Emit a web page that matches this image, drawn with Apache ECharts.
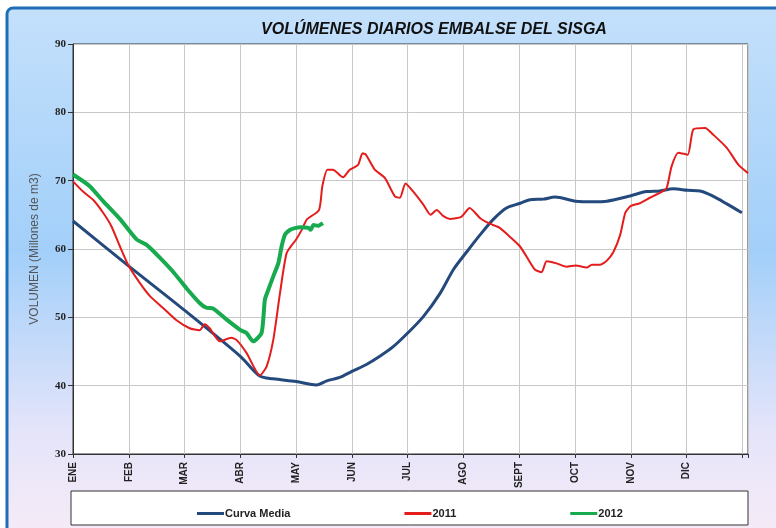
<!DOCTYPE html>
<html>
<head>
<meta charset="utf-8">
<script src="https://cdn.jsdelivr.net/npm/echarts@6/dist/echarts.min.js"></script>
<style>
  html, body { margin: 0; padding: 0; background: #fff; }
  #chart { width: 776px; height: 528px; }
</style>
</head>
<body>
<div id="chart"></div>
<script>
// meses (posicion = mes transcurrido desde el 1 de enero)
const meses = ['ENE', 'FEB', 'MAR', 'ABR', 'MAY', 'JUN', 'JUL', 'AGO', 'SEPT', 'OCT', 'NOV', 'DIC'];

// Curva Media
const mediaMes = [0, 1.0, 2.02, 3.0, 3.35, 3.59, 4.0, 4.25, 4.37, 4.55, 4.78, 5.0, 5.26, 5.5, 5.74, 6.0, 6.28, 6.58, 6.82, 7.06, 7.3, 7.53, 7.77, 8.02, 8.19, 8.43, 8.64, 9.01, 9.33, 9.57, 10.0, 10.28, 10.52, 10.76, 11.02, 11.24, 11.48, 11.72, 11.99];
const mediaVol = [64.1, 57.5, 50.9, 44.3, 41.4, 41.0, 40.6, 40.2, 40.1, 40.7, 41.2, 42.1, 43.1, 44.3, 45.7, 47.7, 50.1, 53.5, 57.0, 59.6, 62.1, 64.3, 66.0, 66.7, 67.2, 67.3, 67.6, 67.0, 66.9, 67.0, 67.8, 68.4, 68.5, 68.8, 68.6, 68.5, 67.7, 66.6, 65.3];

// 2011
const mes2011 = [0, 0.18, 0.36, 0.54, 0.69, 0.84, 1.0, 1.2, 1.38, 1.61, 1.85, 2.09, 2.27, 2.36, 2.45, 2.63, 2.84, 2.93, 3.11, 3.35, 3.47, 3.59, 3.71, 3.83, 4.0, 4.1, 4.19, 4.41, 4.47, 4.56, 4.66, 4.84, 4.96, 5.11, 5.19, 5.25, 5.41, 5.59, 5.77, 5.86, 5.96, 6.1, 6.28, 6.41, 6.52, 6.64, 6.76, 6.96, 7.11, 7.3, 7.47, 7.65, 7.83, 8.01, 8.13, 8.28, 8.4, 8.49, 8.67, 8.85, 9.01, 9.21, 9.3, 9.45, 9.57, 9.69, 9.81, 9.9, 10.0, 10.16, 10.34, 10.52, 10.64, 10.73, 10.85, 11.02, 11.12, 11.33, 11.48, 11.72, 11.93, 12.1];
const vol2011 = [69.9, 68.4, 67.2, 65.3, 63.3, 60.4, 57.5, 55.0, 53.1, 51.4, 49.6, 48.4, 48.1, 49.0, 48.4, 46.5, 47.0, 46.7, 44.8, 41.5, 42.8, 46.7, 53.5, 59.4, 61.4, 62.8, 64.3, 65.7, 69.2, 71.6, 71.6, 70.5, 71.6, 72.3, 74.0, 73.8, 71.6, 70.4, 67.7, 67.5, 69.6, 68.4, 66.5, 65.0, 65.7, 64.8, 64.4, 64.7, 66.0, 64.5, 63.7, 63.1, 61.8, 60.4, 58.9, 57.0, 56.6, 58.2, 57.9, 57.4, 57.6, 57.3, 57.7, 57.7, 58.3, 59.6, 62.1, 65.3, 66.3, 66.7, 67.5, 68.2, 68.9, 72.1, 74.1, 73.8, 77.5, 77.7, 76.7, 74.8, 72.3, 71.1];

// 2012
const mes2012 = [0, 0.3, 0.54, 0.84, 1.14, 1.32, 1.56, 1.79, 2.03, 2.27, 2.39, 2.51, 2.75, 2.99, 3.11, 3.23, 3.38, 3.44, 3.5, 3.59, 3.68, 3.74, 3.8, 3.89, 4.07, 4.22, 4.26, 4.31, 4.39, 4.48];
const vol2012 = [70.9, 69.2, 67.0, 64.4, 61.4, 60.6, 58.7, 56.7, 54.3, 52.1, 51.4, 51.3, 49.7, 48.2, 47.7, 46.5, 47.7, 52.6, 54.0, 56.0, 57.9, 60.4, 62.1, 62.8, 63.2, 63.1, 62.8, 63.5, 63.4, 63.8];

const ejeY = { min: 30, max: 90, paso: 10 };

const zip = (xs, ys) => xs.map((x, i) => [x, ys[i]]);

const myChart = echarts.init(document.getElementById('chart'));

myChart.setOption({
    animation: false,
    graphic: [
        {
            type: 'rect', z: -10, silent: true,
            shape: { x: 7, y: 8, width: 790, height: 540, r: 6 },
            style: {
                fill: new echarts.graphic.LinearGradient(0, 0, 0, 1, [
                    { offset: 0, color: '#c4e0fb' },
                    { offset: 0.45, color: '#a2cff9' },
                    { offset: 0.78, color: '#e4e4fa' },
                    { offset: 1, color: '#f9ecf6' }
                ]),
                stroke: '#1f6db6', lineWidth: 3
            }
        },
        {
            type: 'rect', z: -9, silent: true,
            shape: { x: 71, y: 491, width: 677, height: 34 },
            style: { fill: '#fff', stroke: '#333', lineWidth: 1 }
        }
    ],
    title: {
        text: 'VOLÚMENES DIARIOS EMBALSE DEL SISGA',
        left: 429, top: 17, textAlign: 'center',
        textStyle: { fontFamily: 'Liberation Sans', fontSize: 16, fontWeight: 'bold', fontStyle: 'italic', color: '#111' }
    },
    legend: {
        left: 192, top: 503,
        itemGap: 114, itemWidth: 27, itemHeight: 3,
        icon: 'rect',
        textStyle: { fontFamily: 'Liberation Sans', fontSize: 11, fontWeight: 'bold', color: '#222', padding: [0, 0, 0, -4] },
        data: ['Curva Media', '2011', '2012']
    },
    grid: {
        left: 73, right: 28, top: 44, bottom: 74,
        show: true, backgroundColor: '#fff', borderColor: '#333', borderWidth: 1
    },
    xAxis: {
        type: 'value', min: 0, max: 12.1, interval: 1,
        axisLine: { show: true, lineStyle: { color: '#333' } },
        axisTick: { show: true, length: 4, lineStyle: { color: '#333' } },
        splitLine: { show: true, lineStyle: { color: '#c8c8c8' } },
        axisLabel: {
            rotate: 90, margin: 8,
            fontFamily: 'Liberation Sans', fontSize: 10, fontWeight: 'bold', color: '#222',
            formatter: v => (Number.isInteger(v) && meses[v]) ? meses[v] : ''
        }
    },
    yAxis: {
        type: 'value', min: ejeY.min, max: ejeY.max, interval: ejeY.paso,
        name: 'VOLUMEN (Millones de m3)', nameLocation: 'middle', nameGap: 32,
        nameTextStyle: { fontFamily: 'Liberation Sans', fontSize: 12, color: '#555' },
        axisLine: { show: true, lineStyle: { color: '#333' } },
        axisTick: { show: true, length: 5, lineStyle: { color: '#333' } },
        splitLine: { show: true, lineStyle: { color: '#c8c8c8' } },
        axisLabel: { margin: 7, fontFamily: 'Liberation Serif', fontSize: 11, fontWeight: 'bold', color: '#222' }
    },
    series: [
        {
            name: 'Curva Media', type: 'line', data: zip(mediaMes, mediaVol),
            showSymbol: false, smooth: 0.3,
            lineStyle: { color: '#24497c', width: 3 }, itemStyle: { color: '#24497c' }
        },
        {
            name: '2011', type: 'line', data: zip(mes2011, vol2011),
            showSymbol: false, smooth: 0.2,
            lineStyle: { color: '#e41c1c', width: 2 }, itemStyle: { color: '#e41c1c' }
        },
        {
            name: '2012', type: 'line', data: zip(mes2012, vol2012),
            showSymbol: false, smooth: 0.2,
            lineStyle: { color: '#17aa4f', width: 4 }, itemStyle: { color: '#17aa4f' }
        }
    ]
});
</script>
</body>
</html>
